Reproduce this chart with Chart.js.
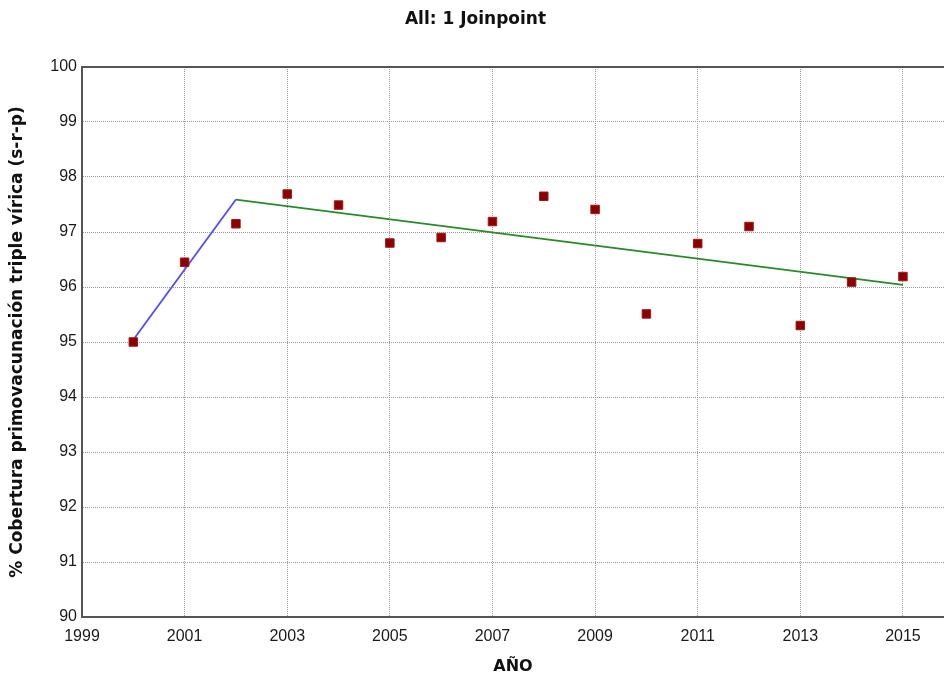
<!DOCTYPE html>
<html>
<head>
<meta charset="utf-8">
<script src="https://cdn.jsdelivr.net/npm/chart.js@4.4.1/dist/chart.umd.min.js"></script>
<style>
  html, body { margin: 0; padding: 0; background: #fff; overflow: hidden; }
  canvas { display: block; }
</style>
</head>
<body>
<canvas id="jp" width="951" height="678"></canvas>
<script>
// observed coverage per year
var years = [2000, 2001, 2002, 2003, 2004, 2005, 2006, 2007, 2008, 2009, 2010, 2011, 2012, 2013, 2014, 2015];
var coverage = [95.0, 96.45, 97.15, 97.69, 97.49, 96.8, 96.9, 97.19, 97.65, 97.41, 95.51, 96.79, 97.1, 95.3, 96.09, 96.19];

// joinpoint fitted segments
var seg1Years = [2000, 2002];
var seg1Values = [95.04, 97.59];
var seg2Years = [2002, 2015];
var seg2Values = [97.59, 96.04];

// axis ticks
var xTicks = [1999, 2001, 2003, 2005, 2007, 2009, 2011, 2013, 2015];
var yTicks = [90, 91, 92, 93, 94, 95, 96, 97, 98, 99, 100];

function toPoints(xs, ys) {
  return xs.map(function(x, i) { return {x: x, y: ys[i]}; });
}

// solid frame line along the top of the plot
var topBorder = {
  id: 'topBorder',
  afterDraw: function(chart) {
    var a = chart.chartArea;
    var c = chart.ctx;
    c.save();
    c.strokeStyle = '#555';
    c.lineWidth = 2;
    c.beginPath();
    c.moveTo(a.left, a.top);
    c.lineTo(a.right + 10, a.top);
    c.stroke();
    c.restore();
  }
};

var tickFont = {family: 'Liberation Sans', size: 16};

new Chart(document.getElementById('jp'), {
  type: 'line',
  data: {
    datasets: [{
      label: 'Observado',
      data: toPoints(years, coverage),
      showLine: false,
      pointStyle: 'rect',
      pointRadius: 6,
      backgroundColor: '#8b0000',
      borderColor: '#a01818',
      borderWidth: 1
    }, {
      label: '2000-2002',
      data: toPoints(seg1Years, seg1Values),
      borderColor: '#4d4dff',
      borderWidth: 1.8,
      pointRadius: 0,
      fill: false
    }, {
      label: '2002-2015',
      data: toPoints(seg2Years, seg2Values),
      borderColor: '#2a8a2a',
      borderWidth: 1.8,
      pointRadius: 0,
      fill: false
    }]
  },
  options: {
    responsive: false,
    animation: false,
    devicePixelRatio: 1,
    layout: {padding: 0},
    plugins: {
      legend: {display: false},
      tooltip: {enabled: false},
      title: {
        display: true,
        text: 'All: 1 Joinpoint',
        color: '#111',
        font: {family: 'DejaVu Sans', size: 17, weight: 'bold'},
        padding: {top: 9, bottom: 37.6}
      }
    },
    scales: {
      x: {
        type: 'linear',
        min: 1999,
        max: 2015.8,
        afterBuildTicks: function(axis) {
          axis.ticks = xTicks.map(function(v) { return {value: v}; });
        },
        afterFit: function(axis) { axis.height = 61; },
        ticks: {
          color: '#1a1a1a',
          font: tickFont,
          padding: 10,
          maxRotation: 0,
          callback: function(v) { return String(v); }
        },
        grid: {color: '#9a9a9a', lineWidth: 1, drawTicks: false},
        border: {color: '#555', width: 2, dash: [1, 1]},
        title: {
          display: true,
          text: 'AÑO',
          color: '#111',
          font: {family: 'DejaVu Sans', size: 16, weight: 'bold'},
          padding: {top: 0, bottom: 2}
        }
      },
      y: {
        type: 'linear',
        min: 90,
        max: 100,
        afterBuildTicks: function(axis) {
          axis.ticks = yTicks.map(function(v) { return {value: v}; });
        },
        afterFit: function(axis) { axis.width = 82; },
        ticks: {
          color: '#1a1a1a',
          font: tickFont,
          padding: 5,
          callback: function(v) { return String(v); }
        },
        grid: {color: '#9a9a9a', lineWidth: 1, drawTicks: false},
        border: {color: '#555', width: 2, dash: [1, 1]},
        title: {
          display: true,
          text: '% Cobertura primovacunación triple vírica (s-r-p)',
          color: '#111',
          font: {family: 'DejaVu Sans', size: 17, weight: 'bold'},
          padding: {top: 7, bottom: 4}
        }
      }
    }
  },
  plugins: [topBorder]
});
</script>
</body>
</html>
